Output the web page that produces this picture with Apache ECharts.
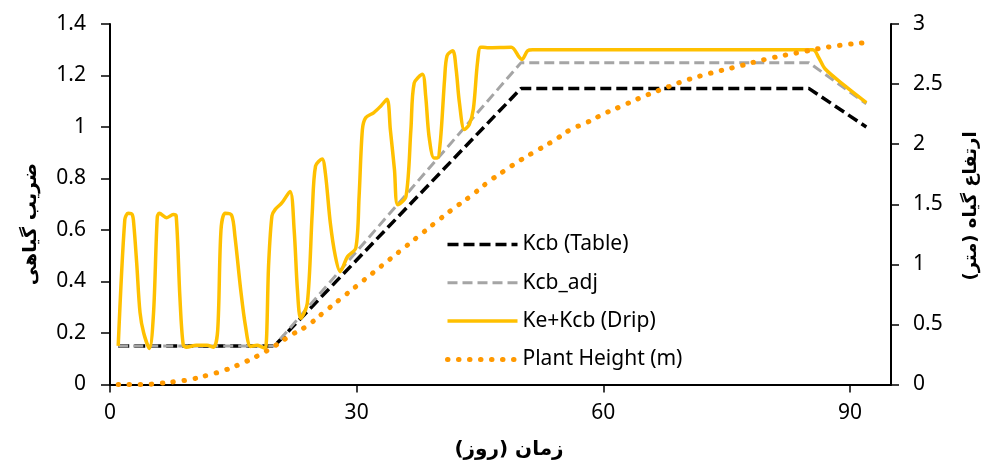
<!DOCTYPE html>
<html>
<head>
<meta charset="utf-8">
<script src="https://cdn.jsdelivr.net/npm/echarts@6/dist/echarts.min.js"></script>
<style>
  html, body { margin: 0; padding: 0; background: #fff; }
  #main { width: 989px; height: 463px; }
</style>
</head>
<body>
<div id="main"></div>
<script>
// day, Kcb
var kcbTable = [[1, 0.15], [20, 0.15], [50, 1.15], [85, 1.15], [92, 1.0]];
var kcbAdj = [[1, 0.15], [20, 0.15], [50, 1.25], [85, 1.25], [92, 1.09]];
var keKcbDrip = [
  [1, 0.15], [1.8, 0.64], [2.2, 0.665], [2.7, 0.66], [2.9, 0.62], [3.25, 0.47], [3.65, 0.28], [4.1, 0.2], [4.8, 0.14],
  [5.3, 0.28], [5.75, 0.65], [6.0, 0.665], [6.9, 0.648], [7.7, 0.66], [8.05, 0.655], [8.5, 0.34], [8.9, 0.155],
  [9.3, 0.145], [10.5, 0.152], [11.8, 0.152], [12.6, 0.145], [13.1, 0.21], [13.5, 0.6], [14.0, 0.665], [14.8, 0.657],
  [15.2, 0.575], [15.9, 0.367], [16.5, 0.223], [17.1, 0.148], [17.9, 0.152], [18.5, 0.145], [18.9, 0.14],
  [19.3, 0.47], [19.7, 0.655], [20.1, 0.68], [20.9, 0.705], [21.9, 0.75], [22.4, 0.6], [22.8, 0.367], [23.2, 0.257],
  [24.0, 0.315], [24.6, 0.667], [25.0, 0.848], [25.8, 0.876], [26.2, 0.82], [26.8, 0.627], [27.4, 0.5], [28.0, 0.438],
  [28.9, 0.497], [29.9, 0.53], [30.3, 0.73], [30.7, 0.99], [31.1, 1.036], [32.1, 1.056], [32.9, 1.08], [33.7, 1.108],
  [34.1, 0.99], [34.6, 0.835], [35.0, 0.698], [36.0, 0.73], [36.6, 0.99], [37.0, 1.17], [38.0, 1.205], [38.4, 1.12],
  [38.8, 0.965], [39.4, 0.88], [39.8, 0.88], [40.2, 0.95], [40.7, 1.186], [41.0, 1.277], [41.7, 1.296], [42.1, 1.225],
  [42.5, 1.095], [43.1, 0.99], [43.7, 1.01], [44.2, 1.07], [44.7, 1.25], [45.1, 1.31], [45.9, 1.308], [48.8, 1.31],
  [49.8, 1.27], [50.1, 1.262], [50.8, 1.296], [51.4, 1.3], [85.5, 1.3], [86.2, 1.27], [87.0, 1.225], [89.4, 1.16],
  [92, 1.095]
];
// day, height (m)
var plantHeight = [
  [1, 0], [4, 0], [6, 0.01], [8, 0.025], [10, 0.045], [12, 0.08], [14, 0.12], [16, 0.175], [18, 0.24], [20, 0.32],
  [22, 0.41], [24, 0.49], [26, 0.6], [28, 0.71], [30, 0.82], [32, 0.93], [34, 1.04], [36, 1.15], [38, 1.26],
  [40, 1.37], [42, 1.475], [44, 1.575], [46, 1.685], [48, 1.78], [50, 1.87], [52, 1.95], [54, 2.03], [56, 2.12],
  [58, 2.18], [60, 2.25], [62, 2.31], [65, 2.4], [68, 2.48], [70, 2.53], [73, 2.59], [76, 2.64], [80, 2.71],
  [84, 2.765], [88, 2.815], [92, 2.845]
];
var xTicks = [0, 30, 60, 90];

var tickFont = { color: '#000', fontSize: 21, fontFamily: 'Noto Sans' };

var blackLine = { color: '#000', width: 3.5, type: [11, 5] };
var grayLine = { color: '#A5A5A5', width: 3, type: [10, 5] };
var goldLine = { color: '#FFC000', width: 3.5, type: 'solid' };
var orangeDots = { color: '#FF9900', width: 5, type: [0.5, 10.5], cap: 'round' };

function titleText(x, y, rot, size, text) {
  return {
    type: 'text', x: x, y: y, rotation: rot,
    style: {
      text: text, font: 'bold ' + size + 'px "DejaVu Sans"', fill: '#000',
      align: 'center', verticalAlign: 'middle', textAlign: 'center', textVerticalAlign: 'middle'
    }
  };
}

var chart = echarts.init(document.getElementById('main'));
var option = {
  animation: false,
  grid: { left: 110, right: 98, top: 24, bottom: 78.5 },
  legend: {
    orient: 'vertical',
    left: 440,
    top: 229,
    itemWidth: 70,
    itemHeight: 20,
    itemGap: 17.3,
    itemStyle: { opacity: 0 },
    textStyle: { color: '#000', fontSize: 21, fontFamily: 'Noto Sans', lineHeight: 20 },
    data: [
      { name: 'Kcb (Table)', lineStyle: blackLine },
      { name: 'Kcb_adj', lineStyle: grayLine },
      { name: 'Ke+Kcb (Drip)', lineStyle: goldLine },
      { name: 'Plant Height (m)', lineStyle: orangeDots }
    ]
  },
  xAxis: {
    type: 'value', min: 0, max: 95, interval: 30,
    splitLine: { show: false },
    axisLine: { lineStyle: { color: '#000', width: 2 } },
    axisTick: { length: 8, lineStyle: { color: '#000', width: 1.5 }, customValues: xTicks },
    axisLabel: Object.assign({ margin: 18, customValues: xTicks }, tickFont)
  },
  yAxis: [
    {
      type: 'value', min: 0, max: 1.4, interval: 0.2,
      splitLine: { show: false },
      axisLine: { show: true, lineStyle: { color: '#000', width: 2 } },
      axisTick: { show: true, length: 9, lineStyle: { color: '#000', width: 1.5 } },
      axisLabel: Object.assign({ margin: 24 }, tickFont)
    },
    {
      type: 'value', min: 0, max: 3, interval: 0.5, position: 'right',
      splitLine: { show: false },
      axisLine: { show: true, lineStyle: { color: '#000', width: 2 } },
      axisTick: { show: true, length: 8, lineStyle: { color: '#000', width: 1.5 } },
      axisLabel: Object.assign({ margin: 22 }, tickFont)
    }
  ],
  graphic: [
    titleText(31, 224, Math.PI / 2, 19, 'ضریب گیاهی'),
    titleText(971, 206, Math.PI / 2, 18, 'ارتفاع گیاه (متر)'),
    titleText(509, 450, 0, 20, 'زمان (روز)')
  ],
  series: [
    { name: 'Kcb (Table)', type: 'line', data: kcbTable, symbol: 'none', lineStyle: blackLine, itemStyle: { color: '#000' } },
    { name: 'Kcb_adj', type: 'line', data: kcbAdj, symbol: 'none', lineStyle: grayLine, itemStyle: { color: '#A5A5A5' } },
    { name: 'Ke+Kcb (Drip)', type: 'line', data: keKcbDrip, symbol: 'none', smooth: 0.3, lineStyle: goldLine, itemStyle: { color: '#FFC000' } },
    { name: 'Plant Height (m)', type: 'line', yAxisIndex: 1, data: plantHeight, symbol: 'none', smooth: true, lineStyle: orangeDots, itemStyle: { color: '#FF9900' } }
  ]
};
chart.setOption(option);
</script>
</body>
</html>
